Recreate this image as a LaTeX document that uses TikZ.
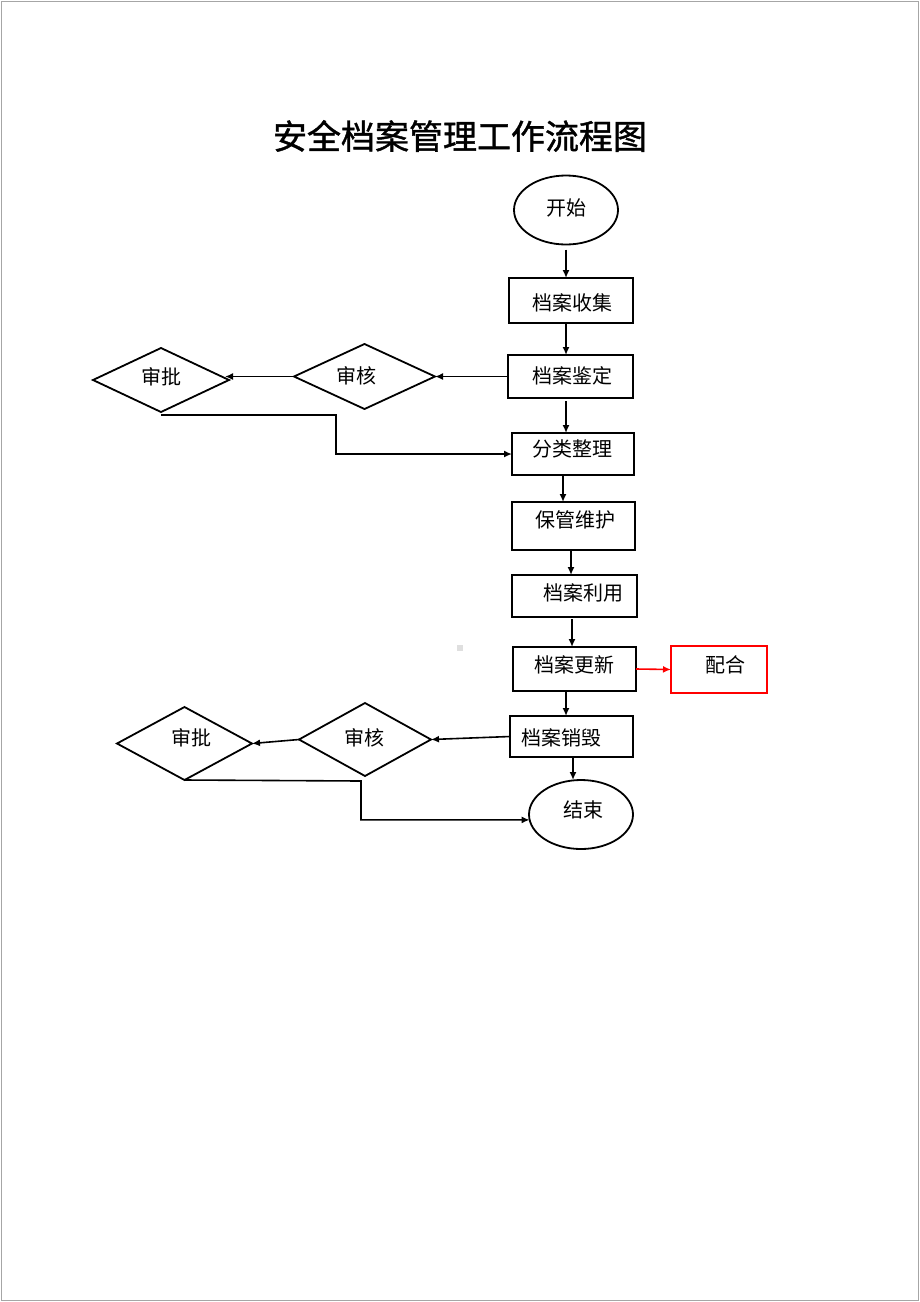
\documentclass[tikz,border=0pt]{standalone}
\usepackage{fontspec}
\setmainfont{Noto Sans CJK SC}
\newfontfamily\titlefont[FakeBold=1.2]{Noto Sans CJK SC}
\usetikzlibrary{shapes.geometric,arrows.meta}
\begin{document}
\begin{tikzpicture}[x=1pt,y=-1pt,
  shp/.style={draw,line width=1.8pt,inner sep=0pt,outer sep=0pt},
  rbox/.style={shp,rectangle},
  oval/.style={shp,ellipse,minimum width=104pt,minimum height=69pt},
  dia/.style={shp,diamond},
  txt/.style={inner sep=0pt,font=\fontsize{20}{24}\selectfont},
  arr/.style={line width=1.6pt,-{Latex[length=8pt,width=7pt]}}]
\useasboundingbox (0,0) rectangle (920,1302);
\draw[gray!70,line width=1pt] (1.5,1.5) rectangle (918.5,1300.5);
\node[inner sep=0pt,font=\titlefont\fontsize{34}{40}\selectfont] (title) at (460,136) {安全档案管理工作流程图};
\fill[gray!25] (457,645) rectangle (463,651);
% shapes
\node[oval] (ks) at (566,210) {};
\node[rbox,minimum width=124pt,minimum height=45pt] (sj) at (571,300.5) {};
\node[rbox,minimum width=125pt,minimum height=43pt] (jd) at (570.5,376.5) {};
\node[rbox,minimum width=122pt,minimum height=42pt] (fl) at (573,454) {};
\node[rbox,minimum width=123pt,minimum height=48pt] (bg) at (573.5,526) {};
\node[rbox,minimum width=125pt,minimum height=42pt] (ly) at (574.5,596) {};
\node[rbox,minimum width=123pt,minimum height=44pt] (gx) at (574.5,669) {};
\node[rbox,draw=red,minimum width=96pt,minimum height=47pt] (ph) at (719,669.5) {};
\node[rbox,minimum width=123pt,minimum height=41pt] (xh) at (571.5,736.5) {};
\node[oval] (js) at (581,814.5) {};
\node[dia,minimum width=141pt,minimum height=65pt] (sh1) at (364.5,376.5) {};
\node[dia,minimum width=136pt,minimum height=64pt] (sp1) at (161,380) {};
\node[dia,minimum width=132pt,minimum height=73pt] (sh2) at (365,739.5) {};
\node[dia,minimum width=135pt,minimum height=73pt] (sp2) at (184.5,743.5) {};
% texts
\node[txt] (t1) at (566,208) {开始};
\node[txt] (t2) at (572,303) {档案收集};
\node[txt] (t3) at (572,376) {档案鉴定};
\node[txt] (t4) at (572,449) {分类整理};
\node[txt] (t5) at (575,520) {保管维护};
\node[txt] (t6) at (583,593) {档案利用};
\node[txt] (t7) at (574,665) {档案更新};
\node[txt] (t8) at (725,665) {配合};
\node[txt] (t9) at (561,738) {档案销毁};
\node[txt] (t10) at (583,810) {结束};
\node[txt] (t11) at (356,376) {审核};
\node[txt] (t12) at (161,377) {审批};
\node[txt] (t13) at (364,738) {审核};
\node[txt] (t14) at (191,738) {审批};
% helper coordinates
\coordinate (v566) at (566,0);
\coordinate (v563) at (563,0);
\coordinate (v571) at (571,0);
\coordinate (v572) at (572,0);
\coordinate (v573) at (573,0);
\coordinate (c1) at (336,415);
\coordinate (c2) at (361,781);
% connectors
\draw[arr] ([yshift=-5pt]ks.south) -- (v566 |- sj.north);
\draw[arr] (v566 |- sj.south) -- (v566 |- jd.north);
\draw[arr] (jd.west) -- (sh1.east);
\draw[arr] (sh1.west) -- ([xshift=-4pt]sh1.west -| sp1.east);
\draw[arr] (sp1.south) ++(0,3) -- (c1) |- (fl.west);
\draw[arr] ([yshift=-3pt]v566 |- jd.south) -- (v566 |- fl.north);
\draw[arr] (v563 |- fl.south) -- (v563 |- bg.north);
\draw[arr] (v571 |- bg.south) -- (v571 |- ly.north);
\draw[arr] ([yshift=-2pt]v572 |- ly.south) -- (v572 |- gx.north);
\draw[arr,red] (gx.east) -- (ph.west);
\draw[arr] (v566 |- gx.south) -- (v566 |- xh.north);
\draw[arr] (xh.west) -- (sh2.east);
\draw[arr] (sh2.west) -- (sp2.east);
\draw[arr] (sp2.south) -- (c2) -- (c2 |- js.186) -- (js.186);
\draw[arr] (v573 |- xh.south) -- (v573 |- js.north);
\end{tikzpicture}
\end{document}
